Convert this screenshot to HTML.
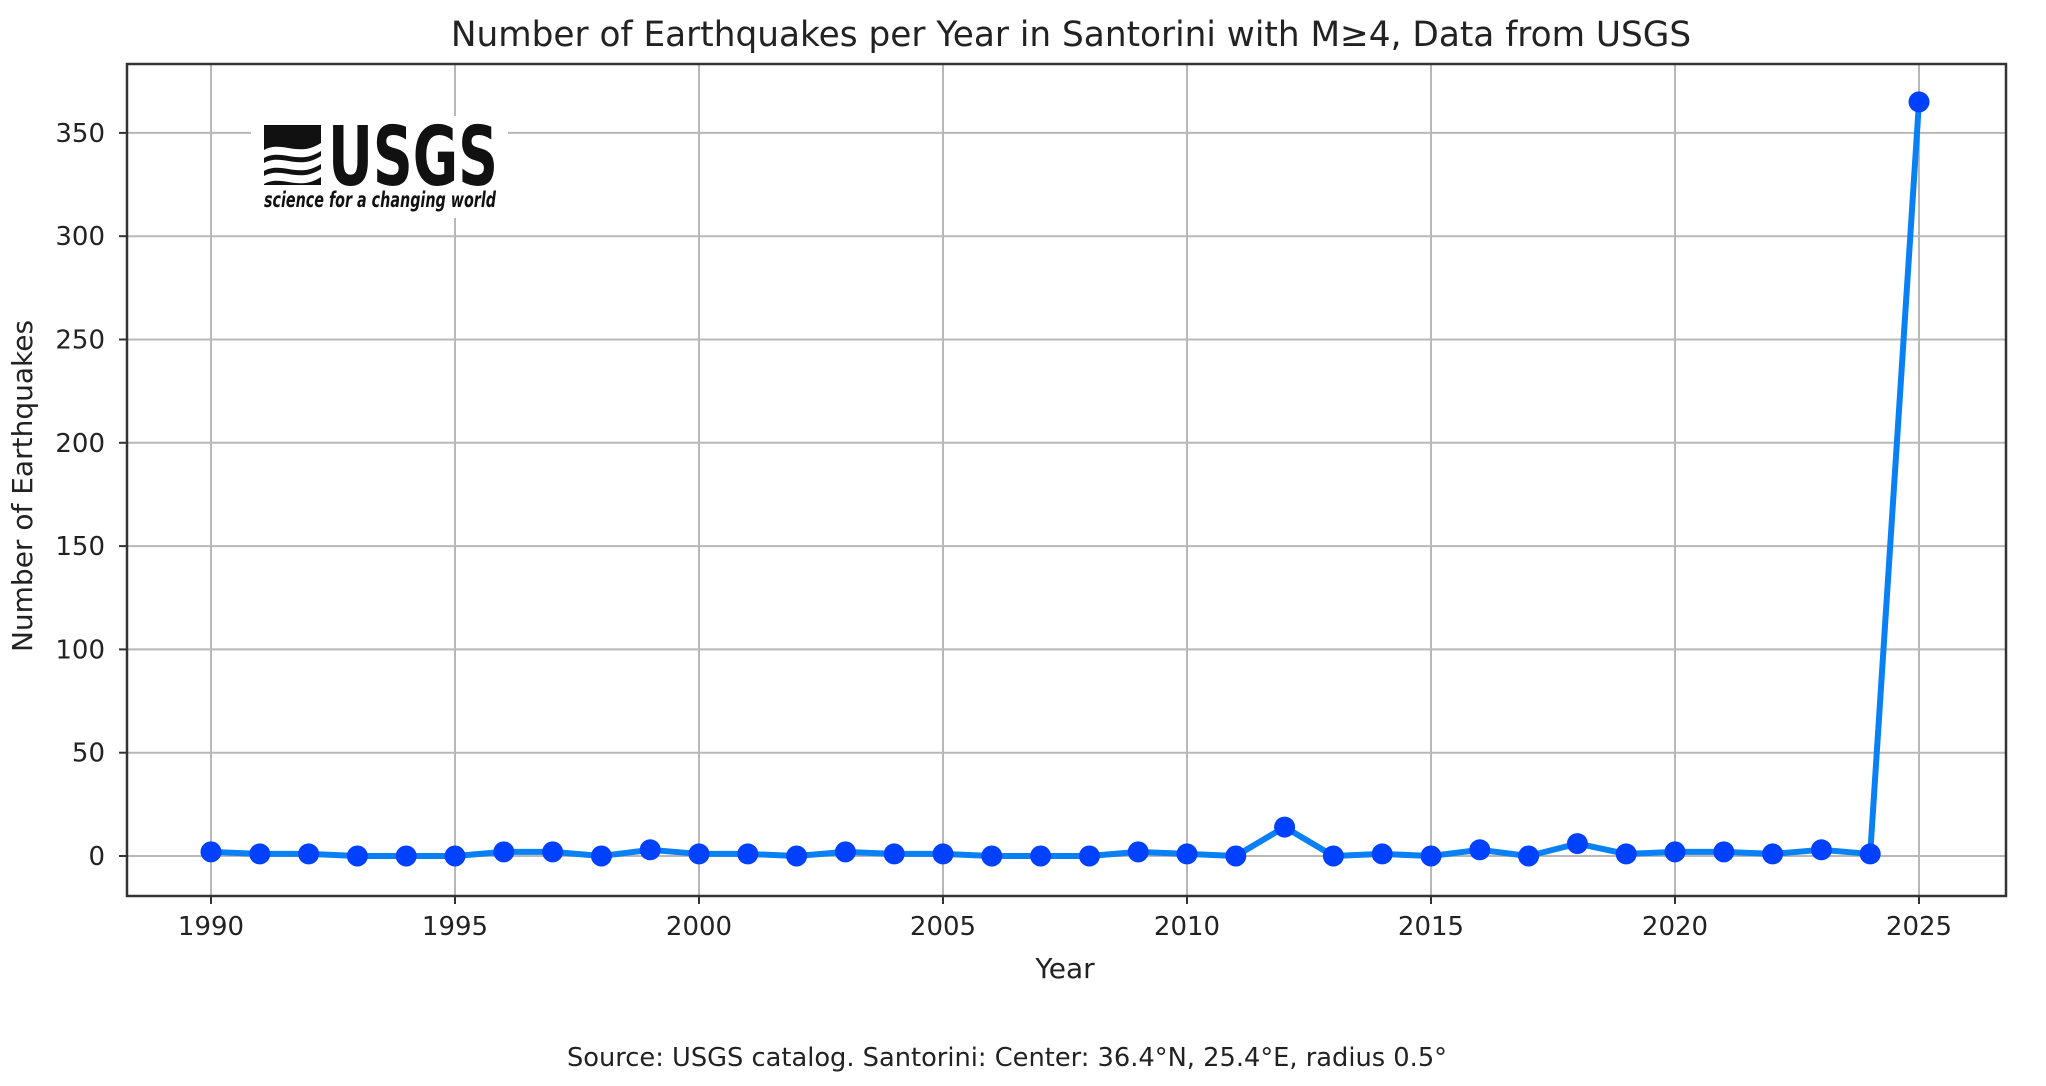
<!DOCTYPE html>
<html><head><meta charset="utf-8"><style>
html,body{margin:0;padding:0;background:#fff;}
svg{display:block;}
text{font-family:"DejaVu Sans","Liberation Sans",sans-serif;fill:#222;}
</style></head><body>
<svg id="s" width="2046" height="1086" viewBox="0 0 2046 1086" xmlns="http://www.w3.org/2000/svg">
<rect width="2046" height="1086" fill="#fff"/>
<g id="grid" stroke="#b8b8b8" stroke-width="2"></g>
<g id="ticks" stroke="#333" stroke-width="2"></g>
<g id="labels" font-size="26" fill="#222"></g>
<!-- logo -->
<rect x="251" y="116" width="257" height="102" fill="#fff"/>
<rect x="264" y="125" width="57" height="60" fill="#111"/>
<path d="M264 150 C282 140,298 158,321 143 L321 151 C298 166,282 148,264 158 Z M264 163 C282 153,298 171,321 156 L321 164 C298 179,282 161,264 171 Z M264 176 C282 166,298 184,321 169 L321 177 C298 192,282 174,264 184 Z" fill="#fff"/>
<text x="328" y="185" font-family="Liberation Sans" font-weight="bold" font-size="82" textLength="170" lengthAdjust="spacingAndGlyphs" style="fill:#111">USGS</text>
<text x="264" y="207" font-family="Liberation Sans" font-style="italic" font-weight="bold" font-size="21" textLength="232" lengthAdjust="spacingAndGlyphs" style="fill:#111">science for a changing world</text>
<polyline id="line" fill="none" stroke="#0a80f5" stroke-width="6" stroke-linejoin="round"/>
<g id="pts" fill="#0040ff"></g>
<rect x="127" y="64" width="1879" height="832" fill="none" stroke="#333" stroke-width="2.5"/>
<text x="1071" y="46" font-size="34.3" text-anchor="middle">Number of Earthquakes per Year in Santorini with M≥4, Data from USGS</text>
<text x="1065" y="978" font-size="28" text-anchor="middle">Year</text>
<text transform="translate(32,486) rotate(-90)" font-size="28" text-anchor="middle">Number of Earthquakes</text>
<text x="1007" y="1066" font-size="25.7" text-anchor="middle">Source: USGS catalog. Santorini: Center: 36.4°N, 25.4°E, radius 0.5°</text>
</svg>
<script>
var NS="http://www.w3.org/2000/svg";
function X(y){return 211+(y-1990)*48.8;}
function Y(v){return 856-v*2.066;}
function el(p,t,a,txt){var e=document.createElementNS(NS,t);for(var k in a)e.setAttribute(k,a[k]);if(txt!=null)e.textContent=txt;document.getElementById(p).appendChild(e);}
for(var y=1990;y<=2025;y+=5){var x=X(y);el('grid','line',{x1:x,y1:64,x2:x,y2:896});el('ticks','line',{x1:x,y1:896,x2:x,y2:904});el('labels','text',{x:x,y:935,'text-anchor':'middle'},String(y));}
for(var v=0;v<=350;v+=50){var yy=Y(v);el('grid','line',{x1:127,y1:yy,x2:2006,y2:yy});el('ticks','line',{x1:119,y1:yy,x2:127,y2:yy});el('labels','text',{x:105,y:yy+9,'text-anchor':'end'},String(v));}
var d=[2,1,1,0,0,0,2,2,0,3,1,1,0,2,1,1,0,0,0,2,1,0,14,0,1,0,3,0,6,1,2,2,1,3,1,365];
var pts=[];for(var i=0;i<d.length;i++){var x=X(1990+i),yy=Y(d[i]);pts.push(x+','+yy);el('pts','circle',{cx:x,cy:yy,r:10.5});}
document.getElementById('line').setAttribute('points',pts.join(' '));
</script>
</body></html>
